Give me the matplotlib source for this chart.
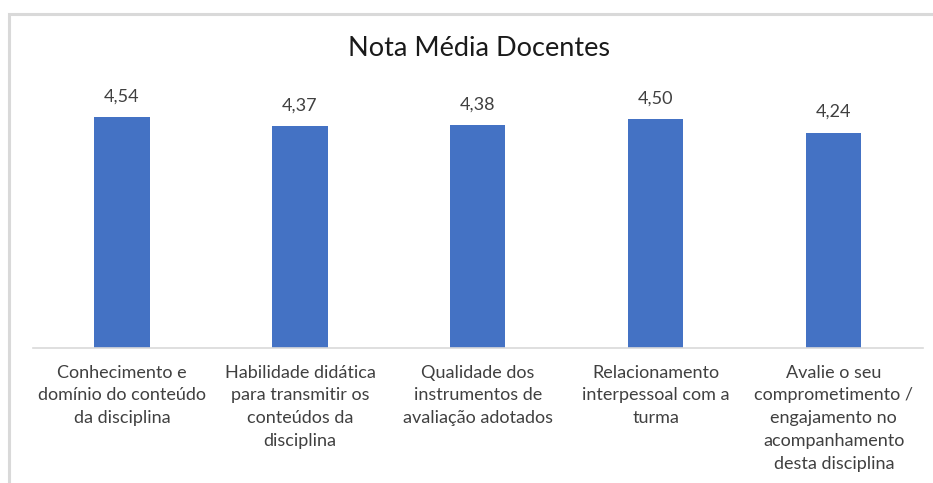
import matplotlib.pyplot as plt
from matplotlib.patches import Rectangle

plt.rcParams['font.family'] = ['Lato', 'DejaVu Sans']

categorias = ['Conhecimento e\ndomínio do conteúdo\nda disciplina',
              'Habilidade didática\npara transmitir os\nconteúdos da\ndisciplina',
              'Qualidade dos\ninstrumentos de\navaliação adotados',
              'Relacionamento\ninterpessoal com a\nturma',
              'Avalie o seu\ncomprometimento /\nengajamento no\nacompanhamento\ndesta disciplina']
notas = [4.54, 4.37, 4.38, 4.50, 4.24]
rotulos = ['4,54', '4,37', '4,38', '4,50', '4,24']

cor_barra = '#4472C4'
cor_texto = '#404040'
cor_linha = '#D9D9D9'

fig = plt.figure(figsize=(9.33, 4.83), dpi=100)
ax = fig.add_axes([0.0354, 0.2795, 0.9536, 0.526])

x = range(len(notas))
barras = ax.bar(x, notas, width=0.31, color=cor_barra)

for b, txt in zip(barras, rotulos):
    ax.annotate(txt, (b.get_x() + b.get_width() / 2, b.get_height()),
                xytext=(0, 9), textcoords='offset points',
                ha='center', va='bottom', fontsize=13, color=cor_texto)

ax.set_xlim(-0.5, len(notas) - 0.5)
ax.set_ylim(0, 5)
ax.set_yticks([])
ax.set_xticks(list(x))
ax.set_xticklabels(categorias, fontsize=13, color=cor_texto, linespacing=1.52,
                   va='top')
ax.tick_params(axis='x', length=0, pad=12)

for s in ['top', 'right', 'left']:
    ax.spines[s].set_visible(False)
ax.spines['bottom'].set_color(cor_linha)
ax.spines['bottom'].set_linewidth(1.2)

fig.text(0.513, 0.9, 'Nota Média Docentes', ha='center', va='center',
         fontsize=19.5, color='#1a1a1a')

# borda do gráfico (cortada à direita e embaixo)
borda = Rectangle((9 / 933, -0.1), 1.1, 1 - 14 / 483 + 0.1,
                  transform=fig.transFigure, fill=False,
                  edgecolor=cor_linha, linewidth=2.2)
fig.patches.append(borda)

fig.savefig('out.png', dpi=100)
